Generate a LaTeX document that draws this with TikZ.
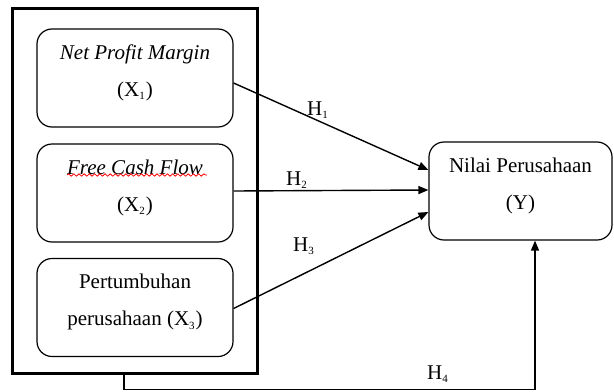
\documentclass[tikz,border=0pt]{standalone}
\usepackage{fontspec}
\setmainfont{Liberation Serif}
\usetikzlibrary{arrows.meta,decorations.pathmorphing}

\newcommand{\idx}[1]{\textsubscript{\fontsize{5.5}{6}\selectfont #1}}

\begin{document}
\begin{tikzpicture}[
  x=0.5pt, y=-0.5pt,
  >={Triangle[length=5pt,width=4pt]},
  var/.style={draw, rounded corners=7.5pt, line width=0.6pt, align=center,
    minimum width=98pt, minimum height=49pt, inner sep=0pt, text depth=7.5pt,
    font=\fontsize{10.5}{18.5}\selectfont},
  frame/.style={draw, line width=1.5pt, minimum width=122.5pt,
    minimum height=182.5pt, inner sep=0pt},
  link/.style={->, line width=0.7pt},
  hyp/.style={font=\fontsize{10.5}{12}\selectfont, inner sep=1pt}
]
\path[use as bounding box] (0,0) rectangle (614,391);

\node[frame] (group) at (134.5,190.5) {};
\node[var] (npm) at (135,78) {\textit{Net Profit Margin}\\(X\idx{1})};
\node[var] (fcf) at (135,193) {\textit{Free Cash Flow}\\(X\idx{2})};
\node[var] (growth) at (135,307.5) {Pertumbuhan\\perusahaan (X\idx{3})};
\node[var, minimum width=91.5pt] (firm) at (520.5,191) {Nilai Perusahaan\\(Y)};

% spell-check underline
\draw[red, line width=0.4pt, decorate,
  decoration={snake, amplitude=0.6pt, segment length=2.6pt}] (67,175) -- (207,175);

\draw[link] ([yshift=-2.5pt]npm.east) -- ([yshift=10.5pt]firm.west);
\draw[link] ([yshift=1pt]fcf.east) -- ([yshift=0.5pt]firm.west);
\draw[link] ([yshift=-0.5pt]growth.east) -- ([yshift=-10.5pt]firm.west);
\coordinate (joint) at (124,373);
\draw[link] (joint) -- (124,389.5) -| (firm.south -| 535,0);

\node[hyp] (h1) at (318,110) {H\idx{1}};
\node[hyp] (h2) at (297,180) {H\idx{2}};
\node[hyp] (h3) at (304,246) {H\idx{3}};
\node[hyp] (h4) at (438,374) {H\idx{4}};
\end{tikzpicture}
\end{document}
